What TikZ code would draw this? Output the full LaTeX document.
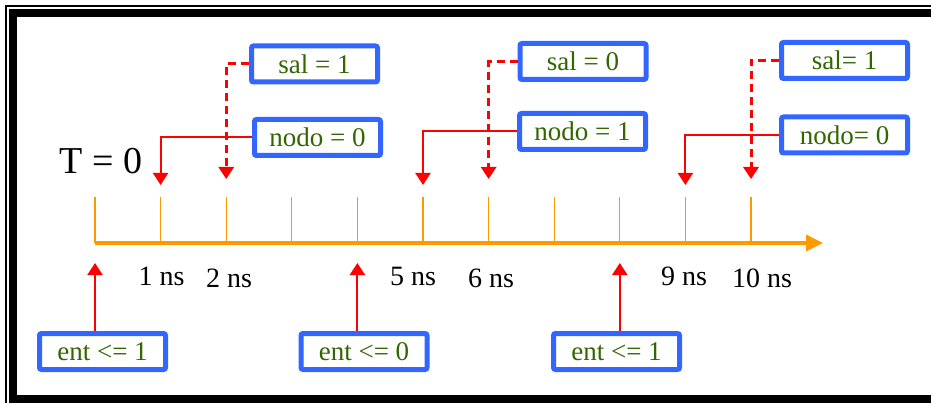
\documentclass[tikz,border=0pt]{standalone}
\usepackage{fontspec}
\setmainfont{Liberation Serif}
\usetikzlibrary{arrows.meta, positioning, calc}

\definecolor{boxblue}{RGB}{51,102,255}
\definecolor{txtgreen}{RGB}{51,102,0}
\definecolor{axisorange}{RGB}{255,153,0}

\begin{document}
\begin{tikzpicture}[
    x=1pt, y=-1pt,
    % Node styles
    event/.style={
        rectangle, rounded corners=2pt, draw=boxblue, fill=white,
        line width=5pt, minimum width=126pt, minimum height=36pt,
        inner sep=0pt, text=txtgreen, font=\fontsize{27}{30}\selectfont
    },
    tlabel/.style={font=\fontsize{28}{30}\selectfont, inner sep=0pt},
    tickmark/.style={axisorange, line width=1.2pt},
    axis/.style={
        -{Triangle[length=17pt, width=16pt]}, line width=3.5pt, axisorange
    },
    sig/.style={
        -{Triangle[length=12pt, width=15pt]}, line width=2pt, red
    },
    sigdash/.style={sig, line width=3pt, dash pattern=on 8pt off 5pt},
]

\useasboundingbox (0,0) rectangle (931,403);
\clip (0,0) rectangle (931,403);

% ═══════════════════════════════════════════════════════════════
% Frame
% ═══════════════════════════════════════════════════════════════

\draw[line width=1.5pt] (6,6) rectangle (960,430);
\draw[line width=8pt] (13,13) rectangle (950,398.5);

% ═══════════════════════════════════════════════════════════════
% Time axis
% ═══════════════════════════════════════════════════════════════

\foreach \k in {0,...,10} {
    \coordinate (t\k) at ({95+65.6*\k}, 243);
    \draw[tickmark] (t\k) -- ++(0,-46);
}
\coordinate (tend) at (823,243);
\draw[axis] (t0) -- (tend);

\node[font=\fontsize{38}{40}\selectfont, inner sep=0pt] (T0) at (101,161) {T = 0};

% Time labels
\node[tlabel] (l1)  at (161.5,276) {1 ns};
\node[tlabel] (l2)  at (229,278)   {2 ns};
\node[tlabel] (l5)  at (413,276)   {5 ns};
\node[tlabel] (l6)  at (491,278)   {6 ns};
\node[tlabel] (l9)  at (684,276)   {9 ns};
\node[tlabel] (l10) at (762,278)   {10 ns};

% ═══════════════════════════════════════════════════════════════
% Events (top)
% ═══════════════════════════════════════════════════════════════

\node[event] (sal1)  at (314.5,64)   {sal = 1};
\node[event] (nodo1) at (317.5,137.5) {nodo = 0};
\node[event] (sal2)  at (583,61.5)   {sal = 0};
\node[event] (nodo2) at (582.5,131.5) {nodo = 1};
\node[event] (sal3)  at (844.5,60.5) {sal= 1};
\node[event] (nodo3) at (844.5,135)  {nodo= 0};

\draw[sig] (nodo1.west) -| ($(t1)+(0,-58)$);
\draw[sigdash] (sal1.west) -| ($(t2)+(0,-64)$);
\draw[sig] (nodo2.west) -| ($(t5)+(0,-58)$);
\draw[sigdash] (sal2.west) -| ($(t6)+(0,-64)$);
\draw[sig] (nodo3.west) -| ($(t9)+(0,-58)$);
\draw[sigdash] (sal3.west) -| ($(t10)+(0,-64)$);

% ═══════════════════════════════════════════════════════════════
% Inputs (bottom)
% ═══════════════════════════════════════════════════════════════

\node[event] (ent1) at (102.5,351.5) {ent <= 1};
\node[event] (ent2) at (364,351.5)   {ent <= 0};
\node[event] (ent3) at (616.5,351.5) {ent <= 1};

\draw[sig] (ent1.north -| t0) -- ($(t0)+(0,20)$);
\draw[sig] (ent2.north -| t4) -- ($(t4)+(0,20)$);
\draw[sig] (ent3.north -| t8) -- ($(t8)+(0,20)$);

\end{tikzpicture}
\end{document}
